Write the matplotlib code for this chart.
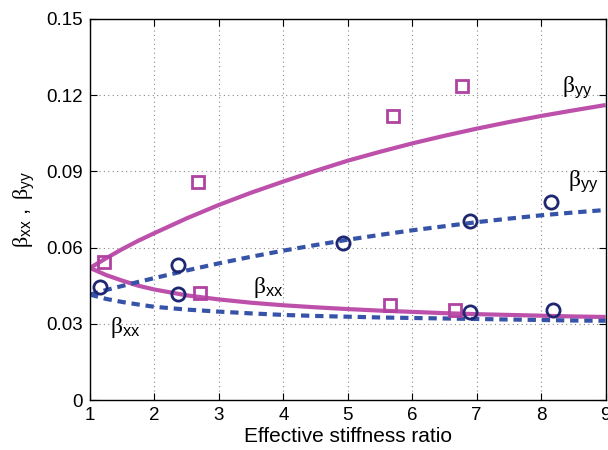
import numpy as np
import matplotlib
matplotlib.use('Agg')
import matplotlib.pyplot as plt

plt.rcParams['font.family'] = ['Liberation Sans', 'DejaVu Sans']
plt.rcParams['mathtext.fontset'] = 'custom'
plt.rcParams['mathtext.rm'] = 'Liberation Sans'
plt.rcParams['mathtext.it'] = 'Liberation Serif'
plt.rcParams['mathtext.default'] = 'it'

# ---- model curves ----
x_fit = [1.0, 1.25, 1.5, 1.75, 2.0, 2.5, 3.0, 3.5, 4.0, 4.5, 5.0,
         5.5, 6.0, 6.5, 7.0, 7.5, 8.0, 8.5, 9.0]
byy_solid = [0.0520, 0.0558, 0.0594, 0.0627, 0.0657, 0.0715, 0.0768, 0.0816,
             0.0860, 0.0902, 0.0942, 0.0977, 0.1010, 0.1040, 0.1068, 0.1094,
             0.1118, 0.1140, 0.1161]
bxx_solid = [0.0520, 0.0492, 0.0470, 0.0450, 0.0435, 0.0412, 0.0396, 0.0383,
             0.0373, 0.0365, 0.0358, 0.0352, 0.0347, 0.0342, 0.0338, 0.0335,
             0.0332, 0.0329, 0.0327]
byy_dash = [0.0415, 0.0433, 0.0449, 0.0465, 0.0480, 0.0510, 0.0538, 0.0564,
            0.0588, 0.0610, 0.0631, 0.0650, 0.0668, 0.0684, 0.0700, 0.0714,
            0.0727, 0.0738, 0.0748]
bxx_dash = [0.0415, 0.0398, 0.0386, 0.0376, 0.0367, 0.0356, 0.0348, 0.0341,
            0.0335, 0.0331, 0.0328, 0.0325, 0.0323, 0.0321, 0.0319, 0.0317,
            0.0315, 0.0313, 0.0312]

# ---- measured points ----
sq_x = [1.22, 2.67, 2.70, 5.70, 6.77, 5.66, 6.67]
sq_y = [0.0545, 0.086, 0.042, 0.1116, 0.1236, 0.0374, 0.0354]
ci_x = [1.15, 2.37, 2.37, 4.93, 6.90, 8.16, 6.90, 8.18]
ci_y = [0.0446, 0.0531, 0.0416, 0.0617, 0.0705, 0.078, 0.0348, 0.0354]

x_ticks = [1, 2, 3, 4, 5, 6, 7, 8, 9]
y_ticks = [0, 0.03, 0.06, 0.09, 0.12, 0.15]
y_labels = ['0', '0.03', '0.06', '0.09', '0.12', '0.15']

magenta = '#bd50aa'
blue = '#3653a8'
navy = '#1e2770'
sqcol = '#b042a2'

fig = plt.figure(figsize=(6.08, 4.5), dpi=100)
ax = fig.add_axes([0.148, 0.111, 0.848, 0.847])

ax.plot(x_fit, byy_solid, color=magenta, lw=3, solid_capstyle='butt')
ax.plot(x_fit, bxx_solid, color=magenta, lw=3, solid_capstyle='butt')
ax.plot(x_fit, byy_dash, color=blue, lw=3, dashes=(2, 1.4))
ax.plot(x_fit, bxx_dash, color=blue, lw=3, dashes=(2, 1.4))

ax.plot(sq_x, sq_y, ls='none', marker='s', ms=8.5, mfc='none', mec=sqcol, mew=2)
ax.plot(ci_x, ci_y, ls='none', marker='o', ms=9.5, mfc='none', mec=navy, mew=2)

# labels next to the curves
ax.text(8.33, 0.1215, r'$\beta_{\rm yy}$', fontsize=17)
ax.text(8.41, 0.0843, r'$\beta_{\rm yy}$', fontsize=17)
ax.text(3.53, 0.0422, r'$\beta_{\rm xx}$', fontsize=17)
ax.text(1.31, 0.0262, r'$\beta_{\rm xx}$', fontsize=17)

ax.set_xlim(1, 9)
ax.set_ylim(0, 0.15)
ax.set_xticks(x_ticks)
ax.set_yticks(y_ticks)
ax.set_yticklabels(y_labels)
ax.tick_params(direction='in', top=True, right=True, labelsize=13.5, length=5, pad=5)
ax.grid(True, ls=(0, (1, 3)), color='#888888', lw=0.8)
for s in ax.spines.values():
    s.set_linewidth(1.0)

ax.set_xlabel('Effective stiffness ratio', fontsize=15)
ax.xaxis.set_label_coords(0.5, -0.07)
ax.set_ylabel(r'$\beta_{\rm xx}\ ,\ \beta_{\rm yy}$', fontsize=16)
ax.yaxis.set_label_coords(-0.105, 0.5)

plt.savefig('out.png', dpi=100)
